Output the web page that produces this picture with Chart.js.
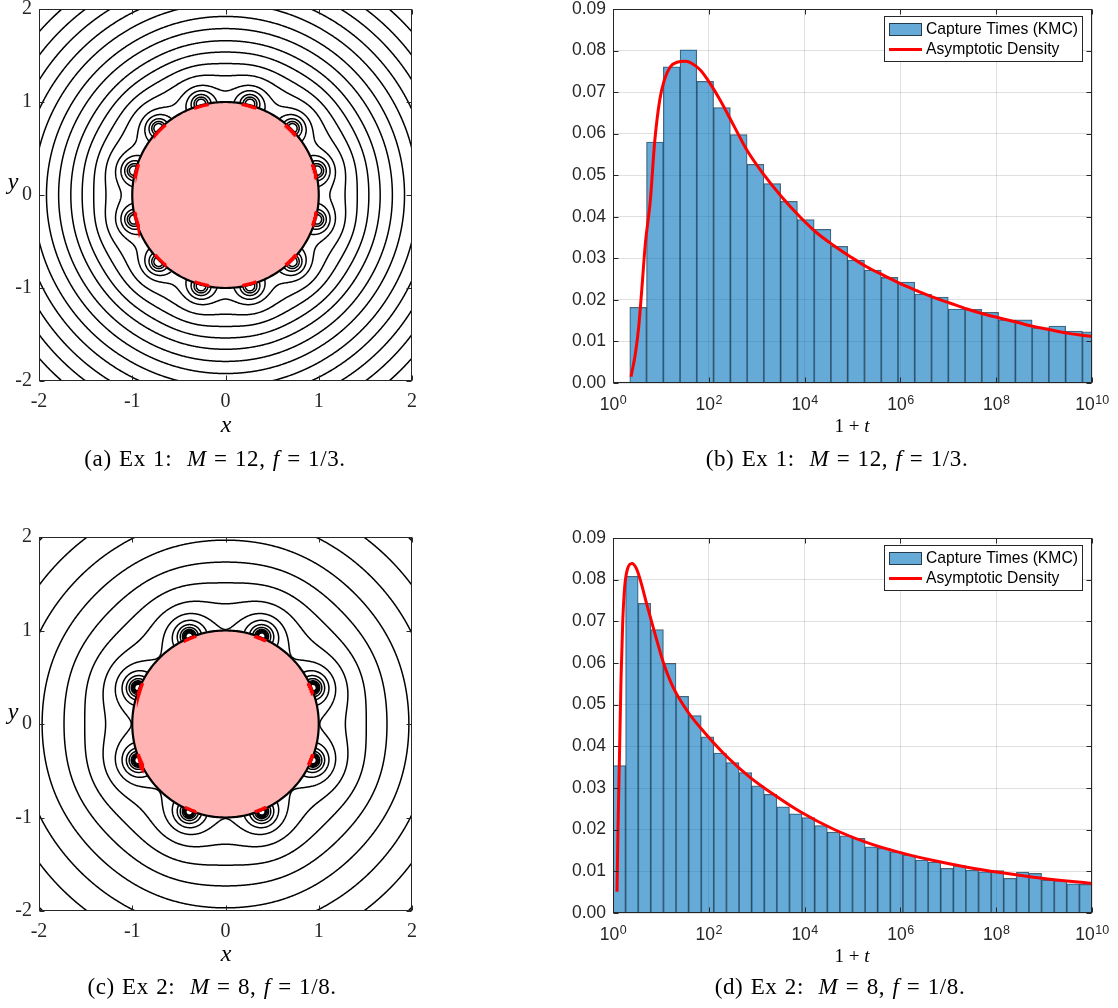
<!DOCTYPE html>
<html>
<head>
<meta charset="utf-8">
<script src="https://cdn.jsdelivr.net/npm/chart.js@4.4.1/dist/chart.umd.min.js"></script>
<style>
html,body{margin:0;padding:0;background:#fff;}
body{width:1118px;height:1008px;position:relative;overflow:hidden;}
canvas{position:absolute;}
.lbl{position:absolute;font-family:"Liberation Serif","Times New Roman",serif;color:#000;white-space:nowrap;transform:translate(-50%,-50%);line-height:1;}
.cap{font-size:23px;letter-spacing:0.6px;word-spacing:1px;}
</style>
</head>
<body>
<canvas id="ca"></canvas>
<canvas id="cb"></canvas>
<canvas id="cc"></canvas>
<canvas id="cd"></canvas>

<div class="lbl" style="left:13px;top:181px;font-size:24px;"><i>y</i></div>
<div class="lbl" style="left:226px;top:424px;font-size:24px;"><i>x</i></div>
<div class="lbl" style="left:852px;top:425px;font-size:19px;">1 + <i>t</i></div>
<div class="lbl cap" style="left:215px;top:458px;">(a) Ex 1:&nbsp; <i>M</i> = 12, <i>f</i> = 1/3.</div>
<div class="lbl cap" style="left:837px;top:458px;">(b) Ex 1:&nbsp; <i>M</i> = 12, <i>f</i> = 1/3.</div>

<div class="lbl" style="left:13px;top:711px;font-size:24px;"><i>y</i></div>
<div class="lbl" style="left:226px;top:953px;font-size:24px;"><i>x</i></div>
<div class="lbl" style="left:852px;top:955px;font-size:19px;">1 + <i>t</i></div>
<div class="lbl cap" style="left:212px;top:986px;">(c) Ex 2:&nbsp; <i>M</i> = 8, <i>f</i> = 1/8.</div>
<div class="lbl cap" style="left:840px;top:986px;">(d) Ex 2:&nbsp; <i>M</i> = 8, <i>f</i> = 1/8.</div>

<script>
// ---------------- DATA ----------------
const contourTicks = [-2, -1, 0, 1, 2];
const sphereRadius = 1;
const trapSourceRadius = 1.015;

// Panel (a): M = 12 traps
const trapAnglesA = [15, 45, 75, 105, 135, 165, 195, 225, 255, 285, 315, 345];
const ringRadiiA = [1.18, 1.30, 1.42, 1.54, 1.66, 1.79, 1.92, 2.06, 2.20, 2.35, 2.50, 2.66, 2.83];
const loopRadiiA = [0.14, 0.10, 0.072, 0.05];
const trapHalfWidthA = 4.5;

// Panel (c): M = 8 traps
const trapAnglesC = [22.5, 67.5, 112.5, 157.5, 202.5, 247.5, 292.5, 337.5];
const ringRadiiC = [1.34, 1.53, 1.74, 1.97, 2.22, 2.49, 2.80];
const loopRadiiC = [0.24, 0.17, 0.125, 0.095, 0.073, 0.057, 0.045, 0.036];
const trapHalfWidthC = 3.6;

// Panel (b): histogram, bin edges in log10(1+t)
const binEdgesB = [0, 0.35, 0.70, 1.05, 1.40, 1.75, 2.10, 2.45, 2.80, 3.15, 3.50, 3.85, 4.20, 4.55, 4.90, 5.25, 5.60, 5.95, 6.30, 6.65, 7.00, 7.35, 7.70, 8.05, 8.40, 8.75, 9.10, 9.45, 9.80, 10.15];
const densityB = [0.0002, 0.0182, 0.0580, 0.0761, 0.0802, 0.0726, 0.0663, 0.0598, 0.0526, 0.0480, 0.0437, 0.0393, 0.0370, 0.0329, 0.0296, 0.0272, 0.0254, 0.0243, 0.0214, 0.0207, 0.0178, 0.0177, 0.0170, 0.0152, 0.0152, 0.0133, 0.0137, 0.0125, 0.0123];
const curveExpB = [0.376, 0.466, 0.536, 0.605, 0.675, 0.779, 0.870, 0.974, 1.072, 1.197, 1.336, 1.510, 1.649, 1.823, 2.032, 2.241, 2.519, 2.797, 3.145, 3.528, 3.911, 4.259, 4.607, 4.955, 5.303, 5.651, 5.999, 6.347, 6.694, 7.042, 7.390, 7.738, 8.086, 8.434, 8.782, 9.130, 9.478, 10.0];
const curveValB = [0.0015, 0.0070, 0.0134, 0.0231, 0.0335, 0.0439, 0.0580, 0.0680, 0.0729, 0.0761, 0.0772, 0.0774, 0.0769, 0.0753, 0.0720, 0.0680, 0.0620, 0.0560, 0.0502, 0.0447, 0.0399, 0.0361, 0.0331, 0.0304, 0.0279, 0.0259, 0.0239, 0.0222, 0.0206, 0.0192, 0.0178, 0.0166, 0.0156, 0.0146, 0.0136, 0.0128, 0.0120, 0.0112];

// Panel (d)
const binEdgesD = [0, 0.263, 0.526, 0.789, 1.053, 1.316, 1.579, 1.842, 2.105, 2.368, 2.632, 2.895, 3.158, 3.421, 3.684, 3.947, 4.211, 4.474, 4.737, 5.000, 5.263, 5.526, 5.789, 6.053, 6.316, 6.579, 6.842, 7.105, 7.368, 7.632, 7.895, 8.158, 8.421, 8.684, 8.947, 9.211, 9.474, 9.737, 10.000];
const densityD = [0.0354, 0.0808, 0.0743, 0.0680, 0.0599, 0.0520, 0.0474, 0.0423, 0.0384, 0.0361, 0.0337, 0.0305, 0.0285, 0.0255, 0.0238, 0.0229, 0.0210, 0.0194, 0.0185, 0.0179, 0.0159, 0.0155, 0.0147, 0.0139, 0.0127, 0.0122, 0.0107, 0.0114, 0.0103, 0.0099, 0.0102, 0.0083, 0.0098, 0.0095, 0.0079, 0.0078, 0.0070, 0.0069];
const curveExpD = [0.0835, 0.104, 0.132, 0.167, 0.202, 0.244, 0.306, 0.397, 0.487, 0.571, 0.710, 0.884, 1.058, 1.267, 1.580, 1.928, 2.380, 2.867, 3.424, 3.911, 4.607, 5.303, 5.999, 6.694, 7.390, 8.086, 8.782, 9.478, 10.0];
const curveValD = [0.0051, 0.0199, 0.0359, 0.0559, 0.0695, 0.0783, 0.0827, 0.0839, 0.0827, 0.0799, 0.0739, 0.0667, 0.0599, 0.0539, 0.0480, 0.0431, 0.0375, 0.0325, 0.0279, 0.0243, 0.0201, 0.0169, 0.0145, 0.0126, 0.0110, 0.0097, 0.0086, 0.0077, 0.0071];

const histXTickExp = [0, 2, 4, 6, 8, 10];
const histYTicks = [0, 0.01, 0.02, 0.03, 0.04, 0.05, 0.06, 0.07, 0.08, 0.09];
const legendLabels = ['Capture Times (KMC)', 'Asymptotic Density'];

// ---------------- STYLE / LAYOUT ----------------
const SERIF = '"Liberation Serif", "Times New Roman", serif';
const SANS = '"Liberation Sans", Arial, Helvetica, sans-serif';
const AXC = '#262626';
const PAD = 30, YW = 60, XH = 40;

function placeCanvas(id, area) {
  const c = document.getElementById(id);
  const w = (area.R - area.L) + YW + 2 * PAD;
  const h = (area.B - area.T) + XH + 2 * PAD;
  c.width = w; c.height = h;
  c.style.width = w + 'px'; c.style.height = h + 'px';
  c.style.left = (area.L - YW - PAD) + 'px';
  c.style.top = (area.T - PAD) + 'px';
  return c;
}

function drawFrame(chart, xTicks, yTicks, tickLen) {
  const {ctx, chartArea: a, scales} = chart;
  ctx.save();
  ctx.strokeStyle = AXC; ctx.lineWidth = 1;
  const L = Math.round(a.left) + 0.5, R = Math.round(a.right) - 0.5;
  const T = Math.round(a.top) + 0.5, B = Math.round(a.bottom) - 0.5;
  ctx.strokeRect(L, T, R - L, B - T);
  ctx.beginPath();
  for (const v of xTicks) {
    const x = Math.round(scales.x.getPixelForValue(v)) + 0.5;
    ctx.moveTo(x, B); ctx.lineTo(x, B - tickLen);
    ctx.moveTo(x, T); ctx.lineTo(x, T + tickLen);
  }
  for (const v of yTicks) {
    const y = Math.round(scales.y.getPixelForValue(v)) + 0.5;
    ctx.moveTo(L, y); ctx.lineTo(L + tickLen, y);
    ctx.moveTo(R, y); ctx.lineTo(R - tickLen, y);
  }
  ctx.stroke();
  ctx.restore();
}

// ---------------- CONTOUR MACHINERY ----------------
function makeField(angles, srcR, N, lo, hi) {
  const n = N + 1, h = (hi - lo) / N, M = angles.length;
  const px = angles.map(a => srcR * Math.cos(a * Math.PI / 180));
  const py = angles.map(a => srcR * Math.sin(a * Math.PI / 180));
  const val = (x, y) => {
    let s = 0;
    for (let k = 0; k < M; k++) { const dx = x - px[k], dy = y - py[k]; s += 1 / Math.sqrt(dx * dx + dy * dy + 1e-12); }
    return s / M;
  };
  const F = new Float64Array(n * n);
  for (let j = 0; j < n; j++) for (let i = 0; i < n; i++) F[j * n + i] = val(lo + i * h, lo + j * h);
  return {F, n, h, lo, val, px, py};
}
function ringLevel(fd, R) {
  let s = 0; const K = 1440;
  for (let q = 0; q < K; q++) { const t = 2 * Math.PI * q / K; s += fd.val(R * Math.cos(t), R * Math.sin(t)); }
  return s / K;
}
function loopLevel(fd, rho) {
  const r = Math.hypot(fd.px[0], fd.py[0]);
  return fd.val(fd.px[0] * (r + rho) / r, fd.py[0] * (r + rho) / r);
}

function traceLevel(fd, L, rSkip) {
  const {F, n, h, lo} = fd;
  const adj = new Map();
  const add = (a, b) => { let l = adj.get(a); if (!l) { l = []; adj.set(a, l); } l.push(b); };
  const link = (a, b) => { add(a, b); add(b, a); };
  for (let j = 0; j < n - 1; j++) {
    const yc = lo + (j + 0.5) * h;
    for (let i = 0; i < n - 1; i++) {
      const xc = lo + (i + 0.5) * h;
      if (xc * xc + yc * yc < rSkip * rSkip) continue;
      const v0 = F[j * n + i], v1 = F[j * n + i + 1], v2 = F[(j + 1) * n + i + 1], v3 = F[(j + 1) * n + i];
      const c = (v0 > L ? 1 : 0) | (v1 > L ? 2 : 0) | (v2 > L ? 4 : 0) | (v3 > L ? 8 : 0);
      if (c === 0 || c === 15) continue;
      const b = 2 * (j * n + i), t = 2 * ((j + 1) * n + i), l = 2 * (j * n + i) + 1, r = 2 * (j * n + i + 1) + 1;
      switch (c) {
        case 1: case 14: link(l, b); break;
        case 2: case 13: link(b, r); break;
        case 3: case 12: link(l, r); break;
        case 4: case 11: link(r, t); break;
        case 6: case 9: link(b, t); break;
        case 7: case 8: link(l, t); break;
        case 5: if ((v0 + v1 + v2 + v3) / 4 > L) { link(l, t); link(b, r); } else { link(l, b); link(r, t); } break;
        case 10: if ((v0 + v1 + v2 + v3) / 4 > L) { link(l, b); link(r, t); } else { link(b, r); link(l, t); } break;
      }
    }
  }
  const pt = (id) => {
    const node = id >> 1; const i = node % n, j = (node - i) / n;
    if ((id & 1) === 0) { const a = F[node], bb = F[node + 1]; const tt = (L - a) / (bb - a); return {x: lo + (i + tt) * h, y: lo + j * h}; }
    const a = F[node], bb = F[node + n]; const tt = (L - a) / (bb - a); return {x: lo + i * h, y: lo + (j + tt) * h};
  };
  const seen = new Set(); const chains = [];
  const walk = (s) => {
    const ch = [s]; seen.add(s); let cur = s;
    for (;;) {
      const nb = adj.get(cur); let nx = -1;
      for (const c of nb) if (!seen.has(c)) { nx = c; break; }
      if (nx < 0) { if (ch.length > 2 && nb.includes(s)) ch.push(s); break; }
      ch.push(nx); seen.add(nx); cur = nx;
    }
    return ch.map(pt);
  };
  for (const [id, nb] of adj) if (nb.length === 1 && !seen.has(id)) chains.push(walk(id));
  for (const id of adj.keys()) if (!seen.has(id)) chains.push(walk(id));
  return chains;
}

function contourChart(id, area, angles, rings, loops, halfW) {
  const fd = makeField(angles, trapSourceRadius, 460, -2, 2);
  const levels = rings.map(R => ringLevel(fd, R)).concat(loops.map(r => loopLevel(fd, r)));
  const lines = [];
  for (const L of levels) {
    for (const ch of traceLevel(fd, L, 0.9)) { for (const p of ch) lines.push(p); lines.push({x: null, y: null}); }
  }
  const circle = [], upper = [], lower = [];
  for (let d = 0; d <= 360; d++) { const t = d * Math.PI / 180; circle.push({x: sphereRadius * Math.cos(t), y: sphereRadius * Math.sin(t)}); }
  for (let d = 0; d <= 180; d++) { const t = d * Math.PI / 180; upper.push({x: sphereRadius * Math.cos(t), y: sphereRadius * Math.sin(t)}); }
  for (let d = 180; d <= 360; d++) { const t = d * Math.PI / 180; lower.push({x: sphereRadius * Math.cos(t), y: sphereRadius * Math.sin(t)}); }
  const arcs = [];
  for (const a of angles) {
    for (let q = -10; q <= 10; q++) { const t = (a + halfW * q / 10) * Math.PI / 180; arcs.push({x: 0.99 * sphereRadius * Math.cos(t), y: 0.99 * sphereRadius * Math.sin(t)}); }
    arcs.push({x: null, y: null});
  }
  const c = placeCanvas(id, area);
  const tickFont = {family: SERIF, size: 20};
  return new Chart(c.getContext('2d'), {
    type: 'scatter',
    data: {datasets: [
      {label: 'traps', data: arcs, showLine: true, borderColor: '#ff0000', borderWidth: 3.2, pointRadius: 0, order: 0, spanGaps: false},
      {label: 'boundary', data: circle, showLine: true, borderColor: '#000', borderWidth: 2.2, pointRadius: 0, order: 1, borderDash: [100000, 0]},
      {label: 'disk upper', data: upper, showLine: true, borderColor: 'rgba(0,0,0,0)', borderWidth: 0, backgroundColor: '#ffb3b3', fill: {value: 0}, pointRadius: 0, order: 2},
      {label: 'disk lower', data: lower, showLine: true, borderColor: 'rgba(0,0,0,0)', borderWidth: 0, backgroundColor: '#ffb3b3', fill: {value: 0}, pointRadius: 0, order: 3},
      {label: 'contours', data: lines, showLine: true, borderColor: '#000', borderWidth: 1.5, pointRadius: 0, order: 4, spanGaps: false, borderJoinStyle: 'round', borderDash: [100000, 0]}
    ]},
    options: {
      responsive: false, animation: false, events: [], devicePixelRatio: 1,
      layout: {padding: {left: PAD, right: PAD, top: PAD, bottom: PAD}},
      plugins: {legend: {display: false}, tooltip: {enabled: false}},
      scales: {
        x: {type: 'linear', min: -2, max: 2, afterFit: s => { s.height = XH; },
            ticks: {stepSize: 1, font: tickFont, color: AXC, padding: 9, autoSkip: false},
            grid: {display: false, drawTicks: false}, border: {display: false}},
        y: {type: 'linear', min: -2, max: 2, afterFit: s => { s.width = YW; },
            ticks: {stepSize: 1, font: tickFont, color: AXC, padding: 7, autoSkip: false},
            grid: {display: false, drawTicks: false}, border: {display: false}}
      }
    },
    plugins: [{id: 'frame', afterDraw: ch => drawFrame(ch, contourTicks, contourTicks, 5)}]
  });
}

// ---------------- HISTOGRAM ----------------
function drawPowerTicks(chart) {
  const {ctx, chartArea: a, scales} = chart;
  ctx.save();
  ctx.fillStyle = AXC; ctx.textAlign = 'left'; ctx.textBaseline = 'alphabetic';
  for (const e of histXTickExp) {
    const px = scales.x.getPixelForValue(Math.pow(10, e));
    ctx.font = '17.5px ' + SANS; const wb = ctx.measureText('10').width;
    ctx.font = '12.5px ' + SANS; const we = ctx.measureText(String(e)).width;
    const x0 = px - (wb + we) / 2;
    ctx.font = '17.5px ' + SANS; ctx.fillText('10', x0, a.bottom + 26.5);
    ctx.font = '12.5px ' + SANS; ctx.fillText(String(e), x0 + wb + 0.5, a.bottom + 20.5);
  }
  ctx.restore();
}
function drawLegend(chart) {
  const {ctx, chartArea: a} = chart;
  const lineDs = chart.data.datasets[0], barDs = chart.data.datasets[1];
  const bx = Math.round(a.right) - 208, by = Math.round(a.top) + 7, bw = 199, bh = 46;
  ctx.save();
  ctx.fillStyle = '#fff'; ctx.fillRect(bx, by, bw, bh);
  ctx.strokeStyle = AXC; ctx.lineWidth = 1; ctx.strokeRect(bx + 0.5, by + 0.5, bw - 1, bh - 1);
  ctx.fillStyle = barDs.backgroundColor; ctx.fillRect(bx + 5, by + 7, 33, 13);
  ctx.strokeStyle = 'rgba(0,0,0,0.65)'; ctx.strokeRect(bx + 5.5, by + 7.5, 32, 12);
  ctx.strokeStyle = lineDs.borderColor; ctx.lineWidth = 3; ctx.beginPath();
  ctx.moveTo(bx + 5, by + 33.5); ctx.lineTo(bx + 38, by + 33.5); ctx.stroke();
  ctx.fillStyle = '#000'; ctx.font = '15.7px ' + SANS; ctx.textBaseline = 'middle'; ctx.textAlign = 'left';
  ctx.fillText(barDs.label, bx + 42, by + 14);
  ctx.fillText(lineDs.label, bx + 42, by + 34);
  ctx.restore();
}
function histChart(id, area, edges, dens, cExp, cVal) {
  const bars = dens.map((v, i) => ({x: Math.pow(10, (edges[i] + edges[i + 1]) / 2), y: v}));
  const curve = cExp.map((e, i) => ({x: Math.pow(10, e), y: cVal[i]}));
  const c = placeCanvas(id, area);
  const gridCol = 'rgba(38,38,38,0.14)';
  return new Chart(c.getContext('2d'), {
    type: 'bar',
    data: {datasets: [
      {type: 'line', label: legendLabels[1], data: curve, borderColor: '#ff0000', borderWidth: 3, pointRadius: 0, cubicInterpolationMode: 'monotone', order: 0},
      {type: 'bar', label: legendLabels[0], data: bars, backgroundColor: 'rgba(0,114,189,0.6)', borderColor: 'rgba(0,0,0,0.62)', borderWidth: 0.6, barPercentage: 1, categoryPercentage: 1, order: 1}
    ]},
    options: {
      responsive: false, animation: false, events: [], devicePixelRatio: 1,
      layout: {padding: {left: PAD, right: PAD, top: PAD, bottom: PAD}},
      plugins: {legend: {display: false}, tooltip: {enabled: false}},
      scales: {
        x: {type: 'logarithmic', min: 1, max: 1e10, offset: false, afterFit: s => { s.height = XH; },
            afterBuildTicks: s => { s.ticks = histXTickExp.map(e => ({value: Math.pow(10, e)})); },
            ticks: {display: false}, grid: {color: gridCol, lineWidth: 1, drawTicks: false, offset: false}, border: {display: false}},
        y: {type: 'linear', min: 0, max: 0.09, afterFit: s => { s.width = YW; },
            ticks: {stepSize: 0.01, callback: v => Number(v).toFixed(2), font: {family: SANS, size: 17.5}, color: AXC, padding: 7},
            grid: {color: gridCol, lineWidth: 1, drawTicks: false}, border: {display: false}}
      }
    },
    plugins: [{id: 'frameLegend', afterDraw: ch => {
      drawFrame(ch, histXTickExp.map(e => Math.pow(10, e)), histYTicks, 5);
      drawPowerTicks(ch);
      drawLegend(ch);
    }}]
  });
}

contourChart('ca', {L: 39, T: 9, R: 412, B: 381}, trapAnglesA, ringRadiiA, loopRadiiA, trapHalfWidthA);
histChart('cb', {L: 613, T: 9, R: 1092, B: 383}, binEdgesB, densityB, curveExpB, curveValB);
contourChart('cc', {L: 39, T: 537, R: 412, B: 911}, trapAnglesC, ringRadiiC, loopRadiiC, trapHalfWidthC);
histChart('cd', {L: 613, T: 538, R: 1092, B: 913}, binEdgesD, densityD, curveExpD, curveValD);
</script>
</body>
</html>
